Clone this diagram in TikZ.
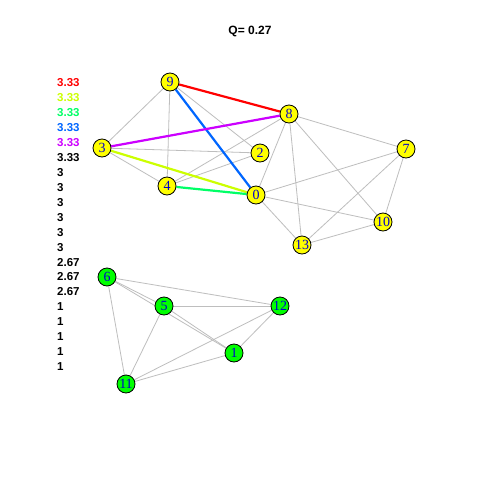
\documentclass[tikz,border=0pt]{standalone}
\usepackage{fontspec}
\usetikzlibrary{backgrounds}
\setmainfont{Liberation Serif}
\newfontfamily\arialb{Liberation Sans}
\definecolor{rRed}{HTML}{FF0000}
\definecolor{rYel}{HTML}{CCFF00}
\definecolor{rGrn}{HTML}{00FF66}
\definecolor{rBlu}{HTML}{0066FF}
\definecolor{rMag}{HTML}{CC00FF}
\definecolor{edgegray}{HTML}{BEBEBE}
\definecolor{nodeyel}{HTML}{FFFF00}
\definecolor{nodegrn}{HTML}{00FF00}
\definecolor{labblue}{HTML}{0000CC}
\tikzset{
  vtx/.style={circle,draw=black,line width=0.8pt,minimum size=18pt,inner sep=0pt,font=\fontsize{14}{14}\selectfont,text=labblue},
  yv/.style={vtx,fill=nodeyel},
  gv/.style={vtx,fill=nodegrn},
  ge/.style={draw=edgegray,line width=0.8pt},
  ce/.style={line width=2.2pt},
  leg/.style={anchor=west,inner sep=0pt,font=\arialb\bfseries\fontsize{11.5}{11.5}\selectfont},
}
\begin{document}
\begin{tikzpicture}[x=1pt,y=-1pt]
\useasboundingbox (0,0) rectangle (480,480);
\node[font=\arialb\bfseries\fontsize{12}{12}\selectfont] (title) at (250,31) {Q= 0.27};
% nodes
\node[yv] (n9) at (170,82) {9};
\node[yv] (n8) at (289,114) {8};
\node[yv] (n3) at (102,148) {3};
\node[yv] (n2) at (260,153) {2};
\node[yv] (n7) at (406,149) {7};
\node[yv] (n4) at (167,186) {4};
\node[yv] (n0) at (256,195) {0};
\node[yv] (n10) at (383,222) {10};
\node[yv] (n13) at (302,245) {13};
\node[gv] (n6) at (107,277) {6};
\node[gv] (n5) at (164,306) {5};
\node[gv] (n12) at (280,306) {12};
\node[gv] (n1) at (234,353) {1};
\node[gv] (n11) at (126,384) {11};
% edges
\begin{pgfonlayer}{background}
\fill[white] (0,0) rectangle (480,480);
\foreach \a/\b in {n9/n3,n9/n4,n9/n2,n3/n2,n3/n4,n4/n8,n4/n2,n8/n0,n8/n7,n8/n13,n8/n10,n0/n7,n0/n10,n0/n13,n7/n10,n7/n13,n13/n10,
  n6/n5,n6/n1,n6/n12,n6/n11,n5/n12,n5/n1,n5/n11,n12/n1,n12/n11,n1/n11}
  \draw[ge] (\a) -- (\b);
\draw[ce,rRed] (n9) -- (n8);
\draw[ce,rBlu] (n9) -- (n0);
\draw[ce,rMag] (n3) -- (n8);
\draw[ce,rYel] (n3) -- (n0);
\draw[ce,rGrn] (n4) -- (n0);
\end{pgfonlayer}
% legend
\node[leg,text=rRed] (l1) at (57,83) {3.33};
\node[leg,text=rYel] (l2) at (57,98) {3.33};
\node[leg,text=rGrn] (l3) at (57,113) {3.33};
\node[leg,text=rBlu] (l4) at (57,128) {3.33};
\node[leg,text=rMag] (l5) at (57,143) {3.33};
\node[leg] (l6) at (57,158) {3.33};
\node[leg] (l7) at (57,173) {3};
\node[leg] (l8) at (57,188) {3};
\node[leg] (l9) at (57,203) {3};
\node[leg] (l10) at (57,218) {3};
\node[leg] (l11) at (57,233) {3};
\node[leg] (l12) at (57,248) {3};
\node[leg] (l13) at (57,263) {2.67};
\node[leg] (l14) at (57,277) {2.67};
\node[leg] (l15) at (57,292) {2.67};
\node[leg] (l16) at (57,307) {1};
\node[leg] (l17) at (57,322) {1};
\node[leg] (l18) at (57,337) {1};
\node[leg] (l19) at (57,352) {1};
\node[leg] (l20) at (57,367) {1};
\end{tikzpicture}
\end{document}
